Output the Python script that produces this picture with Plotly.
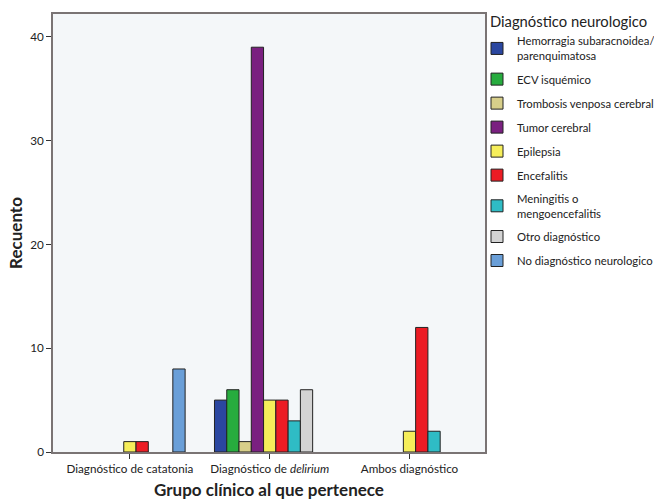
import plotly.graph_objects as go

categories = ["Diagnóstico de catatonia", "Diagnóstico de <i>delirium</i>", "Ambos diagnóstico"]

series_names = [
    "Hemorragia subaracnoidea/<br>parenquimatosa",
    "ECV isquémico",
    "Trombosis venposa cerebral",
    "Tumor cerebral",
    "Epilepsia",
    "Encefalitis",
    "Meningitis o<br>mengoencefalitis",
    "Otro diagnóstico",
    "No diagnóstico neurologico",
]

# counts per category: catatonia, delirium, ambos (None = no bar)
hemorragia = [None, 5, None]
ecv = [None, 6, None]
trombosis = [None, 1, None]
tumor = [None, 39, None]
epilepsia = [1, 5, 2]
encefalitis = [1, 5, 12]
meningitis = [None, 3, 2]
otro = [None, 6, None]
no_diag = [8, None, None]

series_values = [hemorragia, ecv, trombosis, tumor, epilepsia, encefalitis, meningitis, otro, no_diag]
colors = ["#2b47a0", "#27ac3e", "#d8cf8a", "#7a2080", "#f6ee5a", "#ec1c24", "#2fbcc5", "#d3d3d3", "#6a9fd8"]

y_ticks = [0, 10, 20, 30, 40]

fig = go.Figure()
for i, (name, vals, col) in enumerate(zip(series_names, series_values, colors)):
    fig.add_trace(go.Bar(
        x=categories, y=vals, name=name,
        marker=dict(color=col, line=dict(color="#222222", width=1)),
        legendgroup=f"g{i}",
    ))

font_family = "Lato, 'Open Sans', sans-serif"
L, R, T, B = 53, 169, 14, 48
plot_w = 654 - L - R
plot_h = 500 - T - B
fig.update_layout(
    width=654, height=500,
    margin=dict(l=L, r=R, t=T, b=B, autoexpand=False),
    barmode="group", bargap=0.21, bargroupgap=0,
    paper_bgcolor="white", plot_bgcolor="#f4f7f9",
    font=dict(family=font_family, size=11.7, color="#222"),
    legend=dict(
        title=dict(text="Diagnóstico neurologico", font=dict(size=14.8), side="top center"),
        x=(477 - L) / plot_w, xanchor="left",
        y=1 + 6 / plot_h, yanchor="top",
        font=dict(size=11.3), tracegroupgap=5,
        itemwidth=30, bgcolor="rgba(0,0,0,0)",
        maxheight=480,
    ),
    showlegend=True,
)
fig.update_xaxes(
    range=[-0.55, 2.54], showgrid=False, zeroline=False, automargin=False,
    showline=True, linecolor="#7a7474", linewidth=1.5, mirror=True,
    ticks="outside", ticklen=5, tickcolor="#333",
    tickfont=dict(size=11.7),
    title=dict(text="<b>Grupo clínico al que pertenece</b>", font=dict(size=17), standoff=16),
)
fig.update_yaxes(
    range=[0, 42.2], tickvals=y_ticks, showgrid=False, zeroline=False, automargin=False,
    showline=True, linecolor="#7a7474", linewidth=1.5, mirror=True,
    ticks="outside", ticklen=5, tickcolor="#333",
    tickfont=dict(size=11.7),
    title=dict(text="<b>Recuento</b>", font=dict(size=17), standoff=3),
)

fig.write_html(
    "out.html",
    config={"displayModeBar": False},
    post_script="document.body.style.margin='0';document.body.style.padding='0';",
)
